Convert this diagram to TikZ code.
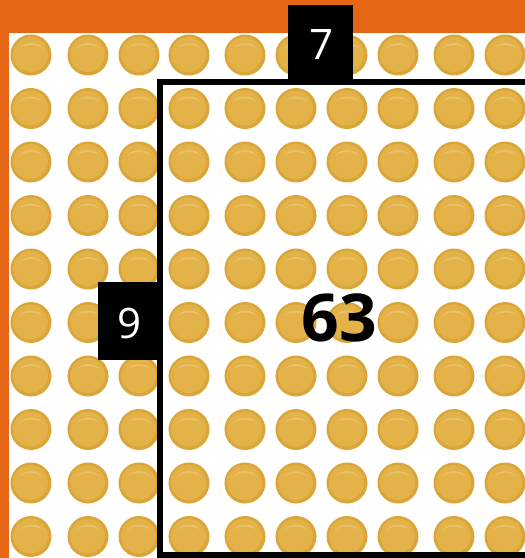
\documentclass[tikz,border=0pt]{standalone}
\usepackage{fontspec}
\setsansfont{Open Sans}
\usetikzlibrary{positioning}
\definecolor{bandorange}{RGB}{229,103,22}
\definecolor{coinedge}{RGB}{218,166,58}
\definecolor{coinface}{RGB}{227,178,72}
\definecolor{coinshine}{RGB}{238,202,120}

\begin{document}
\begin{tikzpicture}[x=1pt, y=-1pt,
    tag/.style={rectangle, fill=black, text=white, inner sep=0pt, font=\sffamily\fontsize{42}{42}\selectfont},
    total/.style={text=black, inner sep=0pt, font=\sffamily\bfseries\fontsize{66}{66}\selectfont},
    frame/.style={draw=black, line width=6pt}
]
\useasboundingbox (0,0) rectangle (525,558);
\begin{scope}
\clip (0,0) rectangle (525,558);
\fill[white] (0,0) rectangle (525,558);
% counters
\foreach \cx in {31,88,139,189,245,296,347,398,454,505}
  \foreach \cy in {55,108.5,162,215.5,269,322.5,376,429.5,483,536.5} {
    \fill[coinedge] (\cx,\cy) circle (20.5);
    \fill[coinface] (\cx-0.5,\cy-0.5) circle (17.5);
    \fill[coinshine, opacity=0.7] (\cx-12,\cy-6) arc (200:340:12.8 and 9) arc (340:200:12.8 and 6) -- cycle;
  }
% orange border
\fill[bandorange] (0,0) rectangle (525,33);
\fill[bandorange] (0,0) rectangle (9,558);
% the 7 by 9 part
\draw[frame] (160,81.5) rectangle (545,555);
\end{scope}

\node[tag, minimum width=65pt, minimum height=74pt] (cols) at (320.5,42) {};
\node (colnum) at (321.5,44.5) [text=white, inner sep=0pt, font=\sffamily\fontsize{42}{42}\selectfont] {7};
\node[tag, minimum width=62pt, minimum height=78pt] (rows) at (129,321) {};
\node (rownum) at (129.5,323) [text=white, inner sep=0pt, font=\sffamily\fontsize{42}{42}\selectfont] {9};
\node[total] (prod) at (339,317.5) {63};

\end{tikzpicture}
\end{document}
